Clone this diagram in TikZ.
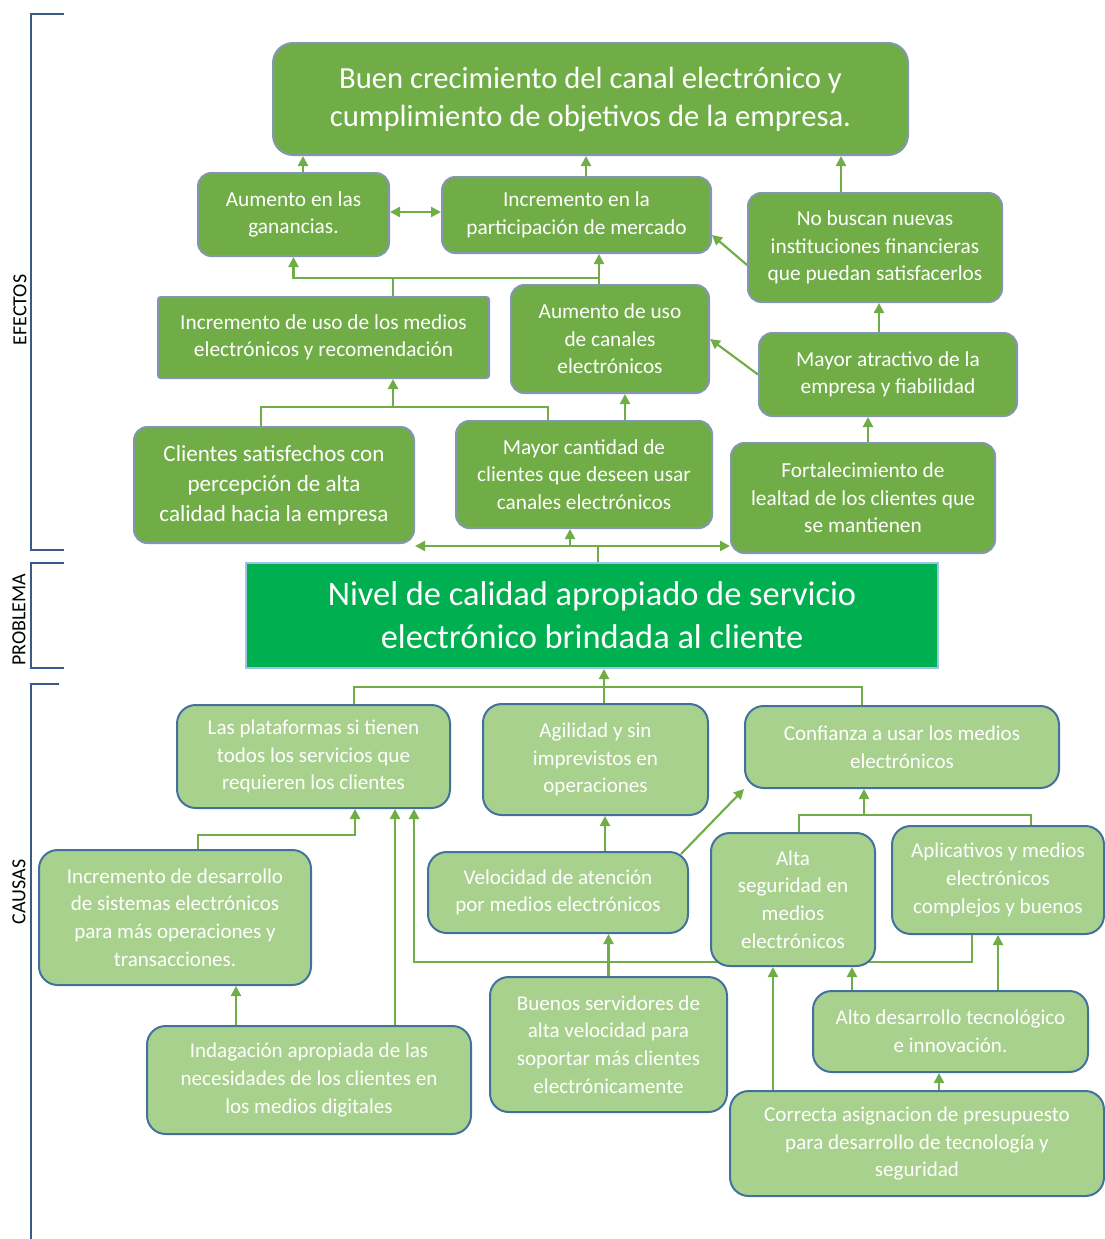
\documentclass[tikz,border=0pt]{standalone}
\usepackage{fontspec}
\setmainfont{Carlito}
\usetikzlibrary{arrows.meta,backgrounds}
\definecolor{effg}{HTML}{70AD47}
\definecolor{effb}{HTML}{8497B0}
\definecolor{caug}{HTML}{A9D18E}
\definecolor{caub}{HTML}{41719C}
\definecolor{probg}{HTML}{00B050}
\definecolor{probb}{HTML}{9DC3E6}
\definecolor{brkc}{HTML}{3A5A8C}
\definecolor{lineg}{HTML}{70AD47}
\tikzset{
  hx/.style={xshift=#1*0.75pt},
  hy/.style={yshift=-(#1)*0.75pt},
  sz/.style 2 args={minimum width=#1*0.75pt, minimum height=#2*0.75pt},
  effbox/.style={draw=effb, line width=1.5pt, fill=effg, rounded corners=10pt, text=white, align=center, inner sep=0pt, font=\fontsize{16}{20.6}\selectfont},
  caubox/.style={draw=caub, line width=1.5pt, fill=caug, rounded corners=14pt, text=white, align=center, inner sep=0pt, font=\fontsize{15.8}{20.8}\selectfont},
  link/.style={draw=lineg, line width=1.6pt},
  arr/.style={link, -{Triangle[length=7.5pt,width=7.5pt]}},
  dbl/.style={link, {Triangle[length=7.5pt,width=7.5pt]}-{Triangle[length=7.5pt,width=7.5pt]}},
  brkline/.style={draw=brkc, line width=1.5pt},
  sidelabel/.style={rotate=90, font=\fontsize{15}{17}\selectfont},
}
\begin{document}
\begin{tikzpicture}[x=0.75pt,y=-0.75pt]
\useasboundingbox (0,0) rectangle (1105,1239);
% ---------- brackets ----------
\draw[brkline] (64,14) -- (31,14) -- (31,550) -- (64,550);
\draw[brkline] (64,563) -- (31,563) -- (31,668) -- (64,668);
\draw[brkline] (59,684) -- (31,684) -- (31,1239);
\node[sidelabel] (lefe) at (20,310) {EFECTOS};
\node[sidelabel] (lpro) at (19,620) {PROBLEMA};
\node[sidelabel] (lcau) at (19,892) {CAUSAS};
% ---------- effects ----------
\node[effbox, sz={635}{112}, rounded corners=15pt, font=\fontsize{23}{28.5}\selectfont] (top) at (590.5,99) {Buen crecimiento del canal electrónico y\\cumplimiento de objetivos de la empresa.};
\node[effbox, sz={191}{83}] (gan) at (293.5,214.5) {Aumento en las\\ganancias.};
\node[effbox, sz={269}{76}] (part) at (576.5,215) {Incremento en la\\participación de mercado};
\node[effbox, sz={254}{109}] (nob) at (875,247.5) {No buscan nuevas\\instituciones financieras\\que puedan satisfacerlos};
\node[effbox, sz={331}{81}, rounded corners=2pt] (medios) at (323.5,337.5) {Incremento de uso de los medios\\electrónicos y recomendación};
\node[effbox, sz={198}{108}] (canales) at (610,339) {Aumento de uso\\de canales\\electrónicos};
\node[effbox, sz={258}{83}] (atrac) at (888,374.5) {Mayor atractivo de la\\empresa y fiabilidad};
\node[effbox, sz={280}{116}, font=\fontsize{17.3}{22.5}\selectfont] (sat) at (274,485) {Clientes satisfechos con\\percepción de alta\\calidad hacia la empresa};
\node[effbox, sz={256}{107}] (cant) at (584,474.5) {Mayor cantidad de\\clientes que deseen usar\\canales electrónicos};
\node[effbox, sz={264}{110}] (fort) at (863,498) {Fortalecimiento de\\lealtad de los clientes que\\se mantienen};
% ---------- problem ----------
\node[draw=probb, line width=1.5pt, fill=probg, text=white, align=center, sz={692}{105}, inner sep=0pt, font=\fontsize{25.8}{32}\selectfont] (prob) at (592,615.5) {Nivel de calidad apropiado de servicio\\electrónico brindada al cliente};
% ---------- causes ----------
\node[caubox, sz={273}{103}] (plat) at (313.5,756.5) {Las plataformas si tienen\\todos los servicios que\\requieren los clientes};
\node[caubox, sz={225}{111}] (agil) at (595.5,759.5) {Agilidad y sin\\imprevistos en\\operaciones};
\node[caubox, sz={314}{82}] (conf) at (902,747) {Confianza a usar los medios\\electrónicos};
\node[caubox, sz={272}{135}] (incd) at (175,917.5) {Incremento de desarrollo\\de sistemas electrónicos\\para más operaciones y\\transacciones.};
\node[caubox, sz={260}{81}] (vel) at (558,892.5) {Velocidad de atención\\por medios electrónicos};
\node[caubox, sz={164}{133}] (alta) at (793,899.5) {Alta\\seguridad en\\medios\\electrónicos};
\node[caubox, sz={212}{108}] (apli) at (998,880) {Aplicativos y medios\\electrónicos\\complejos y buenos};
\node[caubox, sz={237}{135}] (buen) at (608.5,1044.5) {Buenos servidores de\\alta velocidad para\\soportar más clientes\\electrónicamente};
\node[caubox, sz={275}{81}] (altod) at (950.5,1031.5) {Alto desarrollo tecnológico\\e innovación.};
\node[caubox, sz={324}{108}] (inda) at (309,1080) {Indagación apropiada de las\\necesidades de los clientes en\\los medios digitales};
\node[caubox, sz={374}{105}] (corr) at (917,1143.5) {Correcta asignacion de presupuesto\\para desarrollo de tecnología y\\seguridad};
% ---------- connectors ----------
\begin{pgfonlayer}{background}
\coordinate (jA) at (393,278);
\coordinate (jB) at (393,407);
\coordinate (jC) at (598,546);
\coordinate (jC2) at (570,546);
\coordinate (jD) at (604,687);
\coordinate (jE) at (864,815);
\draw[arr] ([hx=9.5]gan.north) -- ([hx=9.5]gan.north |- top.south);
\draw[arr] ([hx=9.5]part.north) -- ([hx=9.5]part.north |- top.south);
\draw[arr] ([hx=-34]nob.north) -- ([hx=-34]nob.north |- top.south);
\draw[dbl] ([hy=-2.5]gan.east) -- ([hy=-2.5]gan.east -| part.west);
\draw[arr] (medios.north -| jA) -- (jA) -| (gan.south);
\draw[arr] (jA) -| ([hx=22.5]part.south);
\draw[link] ([hx=-11]canales.north) -- ([hx=-11]canales.north |- jA);
\draw[arr] ([hy=17.5]nob.west) -- ([hy=20]part.east);
\draw[arr] (atrac.west) -- (canales.east);
\draw[arr] ([hx=-9]atrac.north) -- ([hx=-9]atrac.north |- nob.south);
\draw[arr] ([hx=5]fort.north) -- ([hx=5]fort.north |- atrac.south);
\draw[link] ([hx=-13]sat.north) |- (jB);
\draw[link] ([hx=-36]cant.north) |- (jB);
\draw[arr] (jB) -- (jB |- medios.south);
\draw[arr] ([hx=41]cant.north) -- ([hx=41]cant.north |- canales.south);
\draw[link] (prob.north -| jC) -- (jC);
\draw[arr] (jC) -- (jC -| sat.east);
\draw[arr] (jC) -- (jC -| fort.west);
\draw[arr] (jC2) -- (jC2 |- cant.south);
\draw[arr] (jD) -- (jD |- prob.south);
\draw[link] ([hx=40.5]plat.north) |- (jD);
\draw[link] (agil.north -| jD) -- (jD);
\draw[link] ([hx=-40]conf.north) |- (jD);
\draw[arr] ([hx=23]incd.north) -- ++(0,-14) -| ([hx=41.5]plat.south);
\draw[arr] ([hx=86]inda.north) -- ([hx=86]inda.north |- plat.south);
\draw[arr] ([hx=-73]inda.north) -- ([hx=-73]inda.north |- incd.south);
\draw[arr] ([hx=-26]apli.south) -- ++(0,27) -| ([hx=100.5]plat.south);
\draw[arr] ([hx=47]vel.north) -- ([hx=47]vel.north |- agil.south);
\draw[arr] ([hx=-8,hy=3]vel.north east) -- (conf.south west);
\draw[arr] (buen.north) -- (buen.north |- vel.south);
\draw[arr] (jE) -- (jE |- conf.south);
\draw[link] ([hx=6]alta.north) |- (jE);
\draw[link] ([hx=33]apli.north) |- (jE);
\draw[arr] ([hx=-144]corr.north) -- ([hx=-144]corr.north |- alta.south);
\draw[arr] ([hx=-98.5]altod.north) -- ([hx=-98.5]altod.north |- alta.south);
\draw[arr] ([hx=47.5]altod.north) -- ([hx=47.5]altod.north |- apli.south);
\draw[arr] ([hx=22]corr.north) -- ([hx=22]corr.north |- altod.south);
\end{pgfonlayer}
\end{tikzpicture}
\end{document}
